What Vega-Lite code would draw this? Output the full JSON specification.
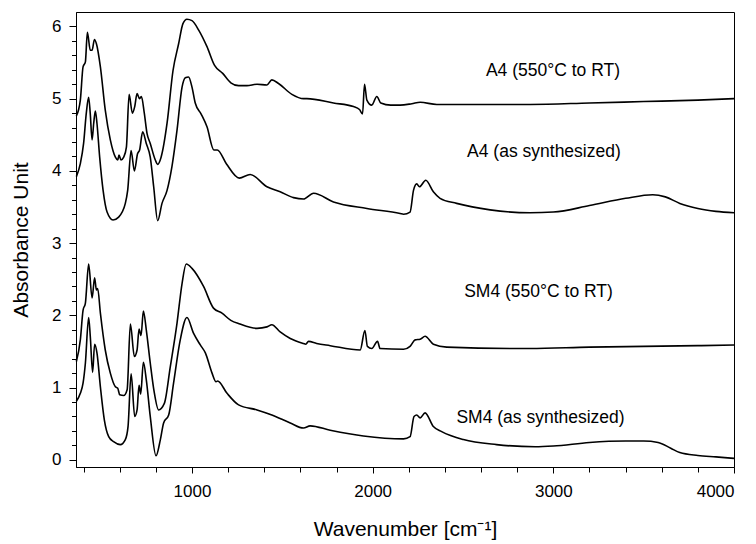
{
  "$schema": "https://vega.github.io/schema/vega-lite/v6.json",
  "width": 658,
  "height": 455,
  "autosize": {"type": "none"},
  "padding": {"left": 76, "top": 12, "right": 22, "bottom": 77},
  "background": "white",
  "config": {
    "view": {"stroke": "#000", "strokeWidth": 1},
    "font": "Liberation Sans",
    "axis": {"grid": false, "domainColor": "#000", "tickColor": "#000", "labelColor": "#000", "titleColor": "#000", "labelFont": "Liberation Sans", "titleFont": "Liberation Sans", "titleFontWeight": "normal", "domainWidth": 1, "tickWidth": 1}
  },
  "datasets": {
    "spectra": [
      {"s":"A","x":360,"y":4.76},{"s":"A","x":382,"y":4.98},{"s":"A","x":397,"y":5.44},{"s":"A","x":410,"y":5.51},{"s":"A","x":421,"y":5.92},{"s":"A","x":437,"y":5.67},{"s":"A","x":447,"y":5.67},{"s":"A","x":460,"y":5.82},{"s":"A","x":471,"y":5.76},{"s":"A","x":493,"y":5.44},{"s":"A","x":520,"y":4.84},{"s":"A","x":548,"y":4.43},{"s":"A","x":576,"y":4.19},{"s":"A","x":589,"y":4.15},{"s":"A","x":596,"y":4.22},{"s":"A","x":607,"y":4.15},{"s":"A","x":622,"y":4.19},{"s":"A","x":637,"y":4.33},{"s":"A","x":652,"y":5.06},{"s":"A","x":670,"y":4.80},{"s":"A","x":683,"y":4.89},{"s":"A","x":696,"y":5.07},{"s":"A","x":710,"y":5.00},{"s":"A","x":720,"y":5.03},{"s":"A","x":736,"y":4.80},{"s":"A","x":751,"y":4.52},{"s":"A","x":769,"y":4.38},{"s":"A","x":797,"y":4.15},{"s":"A","x":810,"y":4.09},{"s":"A","x":829,"y":4.19},{"s":"A","x":862,"y":4.66},{"s":"A","x":895,"y":5.39},{"s":"A","x":926,"y":5.76},{"s":"A","x":950,"y":6.04},{"s":"A","x":972,"y":6.10},{"s":"A","x":1000,"y":6.08},{"s":"A","x":1037,"y":5.95},{"s":"A","x":1083,"y":5.72},{"s":"A","x":1125,"y":5.46},{"s":"A","x":1170,"y":5.35},{"s":"A","x":1215,"y":5.22},{"s":"A","x":1258,"y":5.18},{"s":"A","x":1304,"y":5.18},{"s":"A","x":1360,"y":5.20},{"s":"A","x":1415,"y":5.19},{"s":"A","x":1442,"y":5.26},{"s":"A","x":1479,"y":5.21},{"s":"A","x":1553,"y":5.06},{"s":"A","x":1617,"y":5.00},{"s":"A","x":1636,"y":5.00},{"s":"A","x":1783,"y":4.94},{"s":"A","x":1894,"y":4.89},{"s":"A","x":1927,"y":4.85},{"s":"A","x":1944,"y":4.79},{"s":"A","x":1955,"y":5.20},{"s":"A","x":1968,"y":4.98},{"s":"A","x":1995,"y":4.91},{"s":"A","x":2023,"y":5.03},{"s":"A","x":2045,"y":4.94},{"s":"A","x":2100,"y":4.91},{"s":"A","x":2152,"y":4.91},{"s":"A","x":2217,"y":4.93},{"s":"A","x":2263,"y":4.95},{"s":"A","x":2355,"y":4.92},{"s":"A","x":2600,"y":4.92},{"s":"A","x":2871,"y":4.92},{"s":"A","x":3200,"y":4.94},{"s":"A","x":3500,"y":4.96},{"s":"A","x":3800,"y":4.98},{"s":"A","x":4000,"y":5.00},
      {"s":"B","x":360,"y":3.92},{"s":"B","x":382,"y":4.10},{"s":"B","x":400,"y":4.38},{"s":"B","x":415,"y":4.80},{"s":"B","x":428,"y":5.02},{"s":"B","x":437,"y":4.79},{"s":"B","x":447,"y":4.43},{"s":"B","x":456,"y":4.66},{"s":"B","x":465,"y":4.83},{"s":"B","x":474,"y":4.66},{"s":"B","x":489,"y":4.19},{"s":"B","x":508,"y":3.73},{"s":"B","x":530,"y":3.43},{"s":"B","x":563,"y":3.32},{"s":"B","x":594,"y":3.36},{"s":"B","x":631,"y":3.55},{"s":"B","x":644,"y":3.73},{"s":"B","x":663,"y":4.28},{"s":"B","x":681,"y":4.00},{"s":"B","x":699,"y":4.24},{"s":"B","x":710,"y":4.29},{"s":"B","x":727,"y":4.54},{"s":"B","x":747,"y":4.38},{"s":"B","x":769,"y":4.19},{"s":"B","x":788,"y":3.78},{"s":"B","x":810,"y":3.31},{"s":"B","x":834,"y":3.55},{"s":"B","x":862,"y":3.73},{"s":"B","x":889,"y":4.06},{"s":"B","x":917,"y":4.56},{"s":"B","x":945,"y":5.16},{"s":"B","x":963,"y":5.29},{"s":"B","x":981,"y":5.30},{"s":"B","x":1000,"y":5.16},{"s":"B","x":1018,"y":4.94},{"s":"B","x":1050,"y":4.79},{"s":"B","x":1083,"y":4.61},{"s":"B","x":1121,"y":4.29},{"s":"B","x":1140,"y":4.29},{"s":"B","x":1190,"y":4.10},{"s":"B","x":1262,"y":3.90},{"s":"B","x":1322,"y":3.95},{"s":"B","x":1415,"y":3.78},{"s":"B","x":1488,"y":3.71},{"s":"B","x":1562,"y":3.63},{"s":"B","x":1617,"y":3.61},{"s":"B","x":1673,"y":3.69},{"s":"B","x":1783,"y":3.57},{"s":"B","x":1968,"y":3.48},{"s":"B","x":2152,"y":3.41},{"s":"B","x":2171,"y":3.40},{"s":"B","x":2207,"y":3.43},{"s":"B","x":2226,"y":3.73},{"s":"B","x":2244,"y":3.82},{"s":"B","x":2259,"y":3.78},{"s":"B","x":2294,"y":3.87},{"s":"B","x":2336,"y":3.71},{"s":"B","x":2373,"y":3.62},{"s":"B","x":2465,"y":3.55},{"s":"B","x":2650,"y":3.46},{"s":"B","x":2871,"y":3.42},{"s":"B","x":3000,"y":3.43},{"s":"B","x":3200,"y":3.52},{"s":"B","x":3400,"y":3.62},{"s":"B","x":3550,"y":3.67},{"s":"B","x":3620,"y":3.64},{"s":"B","x":3700,"y":3.55},{"s":"B","x":3800,"y":3.48},{"s":"B","x":3900,"y":3.44},{"s":"B","x":4000,"y":3.42},
      {"s":"C","x":360,"y":1.36},{"s":"C","x":382,"y":1.66},{"s":"C","x":397,"y":2.07},{"s":"C","x":410,"y":2.17},{"s":"C","x":428,"y":2.71},{"s":"C","x":447,"y":2.24},{"s":"C","x":461,"y":2.52},{"s":"C","x":471,"y":2.35},{"s":"C","x":478,"y":2.37},{"s":"C","x":493,"y":2.03},{"s":"C","x":520,"y":1.52},{"s":"C","x":548,"y":1.20},{"s":"C","x":576,"y":1.01},{"s":"C","x":589,"y":0.99},{"s":"C","x":600,"y":0.90},{"s":"C","x":622,"y":0.89},{"s":"C","x":641,"y":0.97},{"s":"C","x":659,"y":1.88},{"s":"C","x":681,"y":1.43},{"s":"C","x":696,"y":1.52},{"s":"C","x":707,"y":1.81},{"s":"C","x":718,"y":1.72},{"s":"C","x":731,"y":2.06},{"s":"C","x":747,"y":1.80},{"s":"C","x":769,"y":1.34},{"s":"C","x":790,"y":0.95},{"s":"C","x":815,"y":0.69},{"s":"C","x":847,"y":0.78},{"s":"C","x":880,"y":1.29},{"s":"C","x":917,"y":1.89},{"s":"C","x":945,"y":2.44},{"s":"C","x":968,"y":2.71},{"s":"C","x":1000,"y":2.65},{"s":"C","x":1064,"y":2.40},{"s":"C","x":1119,"y":2.10},{"s":"C","x":1166,"y":2.03},{"s":"C","x":1215,"y":1.93},{"s":"C","x":1265,"y":1.88},{"s":"C","x":1360,"y":1.82},{"s":"C","x":1415,"y":1.84},{"s":"C","x":1442,"y":1.87},{"s":"C","x":1488,"y":1.77},{"s":"C","x":1544,"y":1.68},{"s":"C","x":1617,"y":1.61},{"s":"C","x":1630,"y":1.60},{"s":"C","x":1645,"y":1.64},{"s":"C","x":1690,"y":1.61},{"s":"C","x":1765,"y":1.58},{"s":"C","x":1931,"y":1.52},{"s":"C","x":1957,"y":1.79},{"s":"C","x":1971,"y":1.57},{"s":"C","x":1995,"y":1.54},{"s":"C","x":2027,"y":1.64},{"s":"C","x":2041,"y":1.54},{"s":"C","x":2171,"y":1.53},{"s":"C","x":2207,"y":1.57},{"s":"C","x":2235,"y":1.66},{"s":"C","x":2263,"y":1.67},{"s":"C","x":2290,"y":1.71},{"s":"C","x":2336,"y":1.60},{"s":"C","x":2410,"y":1.56},{"s":"C","x":2871,"y":1.54},{"s":"C","x":3200,"y":1.56},{"s":"C","x":3500,"y":1.57},{"s":"C","x":3800,"y":1.58},{"s":"C","x":4000,"y":1.59},
      {"s":"D","x":360,"y":0.81},{"s":"D","x":382,"y":0.92},{"s":"D","x":397,"y":1.06},{"s":"D","x":410,"y":1.34},{"s":"D","x":428,"y":1.97},{"s":"D","x":437,"y":1.71},{"s":"D","x":450,"y":1.21},{"s":"D","x":461,"y":1.60},{"s":"D","x":474,"y":1.48},{"s":"D","x":493,"y":1.01},{"s":"D","x":515,"y":0.55},{"s":"D","x":539,"y":0.32},{"s":"D","x":566,"y":0.25},{"s":"D","x":603,"y":0.21},{"s":"D","x":631,"y":0.28},{"s":"D","x":646,"y":0.46},{"s":"D","x":663,"y":1.19},{"s":"D","x":683,"y":0.60},{"s":"D","x":696,"y":0.69},{"s":"D","x":707,"y":1.03},{"s":"D","x":716,"y":0.91},{"s":"D","x":731,"y":1.35},{"s":"D","x":747,"y":1.11},{"s":"D","x":769,"y":0.60},{"s":"D","x":801,"y":0.055},{"s":"D","x":825,"y":0.28},{"s":"D","x":843,"y":0.51},{"s":"D","x":871,"y":0.62},{"s":"D","x":898,"y":1.06},{"s":"D","x":935,"y":1.66},{"s":"D","x":972,"y":1.97},{"s":"D","x":1009,"y":1.75},{"s":"D","x":1046,"y":1.59},{"s":"D","x":1074,"y":1.48},{"s":"D","x":1111,"y":1.20},{"s":"D","x":1133,"y":1.08},{"s":"D","x":1142,"y":1.09},{"s":"D","x":1194,"y":0.92},{"s":"D","x":1258,"y":0.76},{"s":"D","x":1360,"y":0.69},{"s":"D","x":1442,"y":0.62},{"s":"D","x":1544,"y":0.51},{"s":"D","x":1617,"y":0.44},{"s":"D","x":1654,"y":0.47},{"s":"D","x":1765,"y":0.41},{"s":"D","x":1949,"y":0.33},{"s":"D","x":2171,"y":0.29},{"s":"D","x":2207,"y":0.32},{"s":"D","x":2229,"y":0.60},{"s":"D","x":2244,"y":0.62},{"s":"D","x":2263,"y":0.58},{"s":"D","x":2290,"y":0.65},{"s":"D","x":2336,"y":0.46},{"s":"D","x":2382,"y":0.39},{"s":"D","x":2502,"y":0.28},{"s":"D","x":2686,"y":0.21},{"s":"D","x":2900,"y":0.18},{"s":"D","x":3000,"y":0.19},{"s":"D","x":3200,"y":0.24},{"s":"D","x":3400,"y":0.26},{"s":"D","x":3500,"y":0.26},{"s":"D","x":3580,"y":0.24},{"s":"D","x":3650,"y":0.16},{"s":"D","x":3700,"y":0.10},{"s":"D","x":3800,"y":0.06},{"s":"D","x":3900,"y":0.04},{"s":"D","x":4000,"y":0.02}
    ],
    "labels": [
      {"label": "A4 (550°C to RT)", "x": 2998, "y": 5.39},
      {"label": "A4 (as synthesized)", "x": 2948, "y": 4.26},
      {"label": "SM4 (550°C to RT)", "x": 2918, "y": 2.32},
      {"label": "SM4 (as synthesized)", "x": 2929, "y": 0.58}
    ]
  },
  "resolve": {"axis": {"x": "independent", "y": "independent"}},
  "layer": [
    {
      "data": {"name": "spectra"},
      "mark": {"type": "line", "color": "#000", "strokeWidth": 1.6, "interpolate": "monotone"},
      "encoding": {
        "x": {"field": "x", "type": "quantitative", "scale": {"domain": [358, 4000], "nice": false, "zero": false},
              "axis": {"orient": "bottom", "values": [1000, 2000, 3000, 4000], "tickSize": 6, "labelFontSize": 17, "labelPadding": 10, "title": "Wavenumber [cm⁻¹]", "titleFontSize": 21, "titleX": 329, "titleY": 62, "titleBaseline": "middle", "format": "d"}},
        "y": {"field": "y", "type": "quantitative", "scale": {"domain": [-0.1, 6.2], "nice": false, "zero": false},
              "axis": {"orient": "left", "values": [0, 1, 2, 3, 4, 5, 6], "tickSize": 7, "labelFontSize": 17, "labelPadding": 8, "title": "Absorbance Unit", "titleFontSize": 21, "titleX": -55, "titleY": 227.5, "titleBaseline": "middle", "titleAngle": -90, "titleAlign": "center"}},
        "detail": {"field": "s", "type": "nominal"}
      }
    },
    {
      "data": {"name": "labels"},
      "mark": {"type": "text", "align": "center", "baseline": "middle", "fontSize": 17.5, "font": "Liberation Sans", "color": "#000"},
      "encoding": {
        "x": {"field": "x", "type": "quantitative",
              "axis": {"orient": "bottom", "values": [400, 600, 800, 1200, 1400, 1600, 1800, 2200, 2400, 2600, 2800, 3200, 3400, 3600, 3800], "tickSize": 5, "labels": false, "domain": false, "title": null}},
        "y": {"field": "y", "type": "quantitative",
              "axis": {"orient": "left", "values": [0.2, 0.4, 0.6, 0.8, 1.2, 1.4, 1.6, 1.8, 2.2, 2.4, 2.6, 2.8, 3.2, 3.4, 3.6, 3.8, 4.2, 4.4, 4.6, 4.8, 5.2, 5.4, 5.6, 5.8], "tickSize": 4.5, "labels": false, "domain": false, "title": null}},
        "text": {"field": "label"}
      }
    }
  ]
}
